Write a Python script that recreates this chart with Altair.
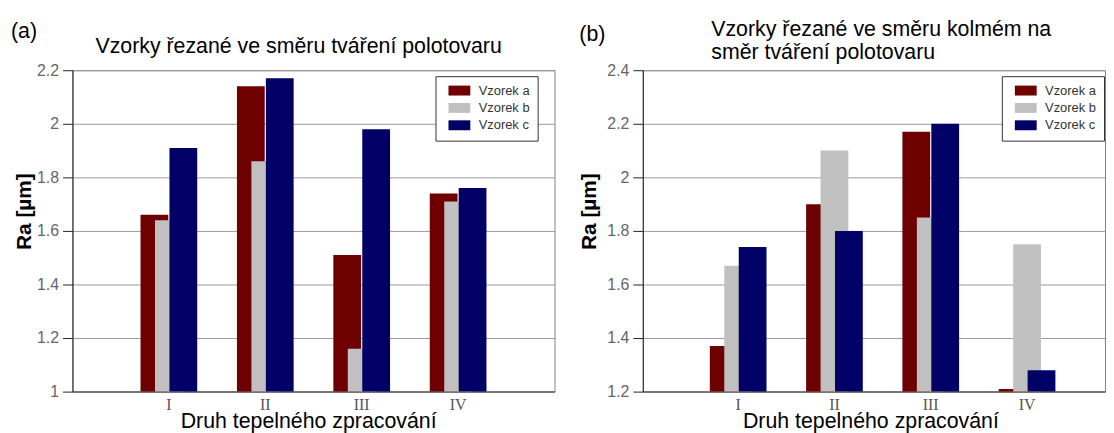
import altair as alt
import pandas as pd

groups = ["I", "II", "III", "IV"]
samples = ["Vzorek a", "Vzorek b", "Vzorek c"]
colors = ["#6e0000", "#c0c0c0", "#000066"]

left_a = [1.66, 2.14, 1.51, 1.74]
left_b = [1.64, 1.86, 1.16, 1.71]
left_c = [1.91, 2.17, 1.98, 1.76]

right_a = [1.37, 1.90, 2.17, 1.21]
right_b = [1.67, 2.10, 1.85, 1.75]
right_c = [1.74, 1.80, 2.20, 1.28]

ticks_left = [1.0, 1.2, 1.4, 1.6, 1.8, 2.0, 2.2]
ticks_right = [1.2, 1.4, 1.6, 1.8, 2.0, 2.2, 2.4]

title_left = ["Vzorky řezané ve směru tváření polotovaru"]
title_right = ["Vzorky řezané ve směru kolmém na", "směr tváření polotovaru"]
x_title = "Druh tepelného zpracování"
y_title = "Ra [µm]"

SANS = "Liberation Sans"
SERIF = "Liberation Serif"
H = 324
TS = 21.5


def make_df(a, b, c):
    rows = []
    for s, vals in zip(samples, [a, b, c]):
        for g, v in zip(groups, vals):
            rows.append({"group": g, "sample": s, "ra": v})
    return pd.DataFrame(rows)


def text_layer(txt, x, y, align, size=TS):
    return alt.Chart(pd.DataFrame({"t": [txt]})).mark_text(
        align=align, baseline="alphabetic", font=SANS, fontSize=size, color="#000"
    ).encode(x=alt.value(x), y=alt.value(y), text="t:N")


def panel(a, b, c, domain, ticks, width, xscale, title_lines, title_x, title_y,
          title_align, tag, tag_x, tag_y, legend_x, x_title_x, y_title_x):
    df = make_df(a, b, c)
    bars = alt.Chart(df).mark_bar(width=28, clip=True).encode(
        x=alt.X("group:N", sort=groups, scale=xscale,
                axis=alt.Axis(title=x_title, labelAngle=0, ticks=False,
                              labelFont=SERIF, labelFontSize=16, labelColor="#555",
                              labelPadding=5, domainColor="#777", domainWidth=2,
                              titleFont=SANS, titleFontSize=TS, titleFontWeight="normal",
                              titleColor="#000", titleBaseline="alphabetic",
                              titleY=36, titleX=x_title_x, titleAlign="center")),
        xOffset=alt.XOffset("sample:N", sort=samples,
                            scale=alt.Scale(paddingInner=0, paddingOuter=0.5)),
        y=alt.Y("ra:Q", scale=alt.Scale(domain=domain, zero=False, nice=False),
                axis=alt.Axis(values=ticks, format="~g", title=y_title,
                              labelFont=SANS, labelFontSize=16, labelColor="#666",
                              labelPadding=4,
                              tickSize=10, tickColor="#222", domainColor="#222",
                              gridColor="#999", gridWidth=1,
                              titleFont=SANS, titleFontSize=21, titleFontWeight="bold",
                              titleColor="#000", titleX=y_title_x, titleY=142)),
        color=alt.Color("sample:N", sort=samples,
                        scale=alt.Scale(domain=samples, range=colors),
                        legend=alt.Legend(title=None, orient="none", legendX=legend_x,
                                          legendY=6, direction="vertical",
                                          fillColor="white", strokeColor="#333",
                                          padding=8, rowPadding=3.5,
                                          symbolType="M-2.2,-1H2.2V1H-2.2Z",
                                          symbolSize=100, symbolOffset=9.6,
                                          labelOffset=13, labelFont=SANS,
                                          labelFontSize=13, labelColor="#333")),
    )
    layers = [bars, text_layer(tag, tag_x, tag_y, "left")]
    for i, line in enumerate(title_lines):
        layers.append(text_layer(line, title_x, title_y + 24 * i, title_align))
    return alt.layer(*layers).properties(width=width, height=H)


left = panel(left_a, left_b, left_c, [1.0, 2.2], ticks_left, 486,
             alt.Scale(paddingInner=0.4, paddingOuter=0.7),
             title_left, 228, -17, "center",
             "(a)", -62, -32, 366, 237.6, -38)

right = panel(right_a, right_b, right_c, [1.2, 2.4], ticks_right, 466,
              alt.Scale(paddingInner=0.4, paddingOuter=0.6, align=0.575),
              title_right, 69, -35, "left",
              "(b)", -64, -29, 362, 229.5, -44)

chart = alt.hconcat(left, right, spacing=89, bounds="flush").resolve_scale(
    color="independent", y="independent", x="independent"
).resolve_legend(color="independent").configure_view(
    stroke="#808080", strokeWidth=1
).properties(padding={"left": 2, "top": 8, "right": 0, "bottom": 0}, background="white")

chart.save("out.html", embed_options={"renderer": "svg", "actions": False})
